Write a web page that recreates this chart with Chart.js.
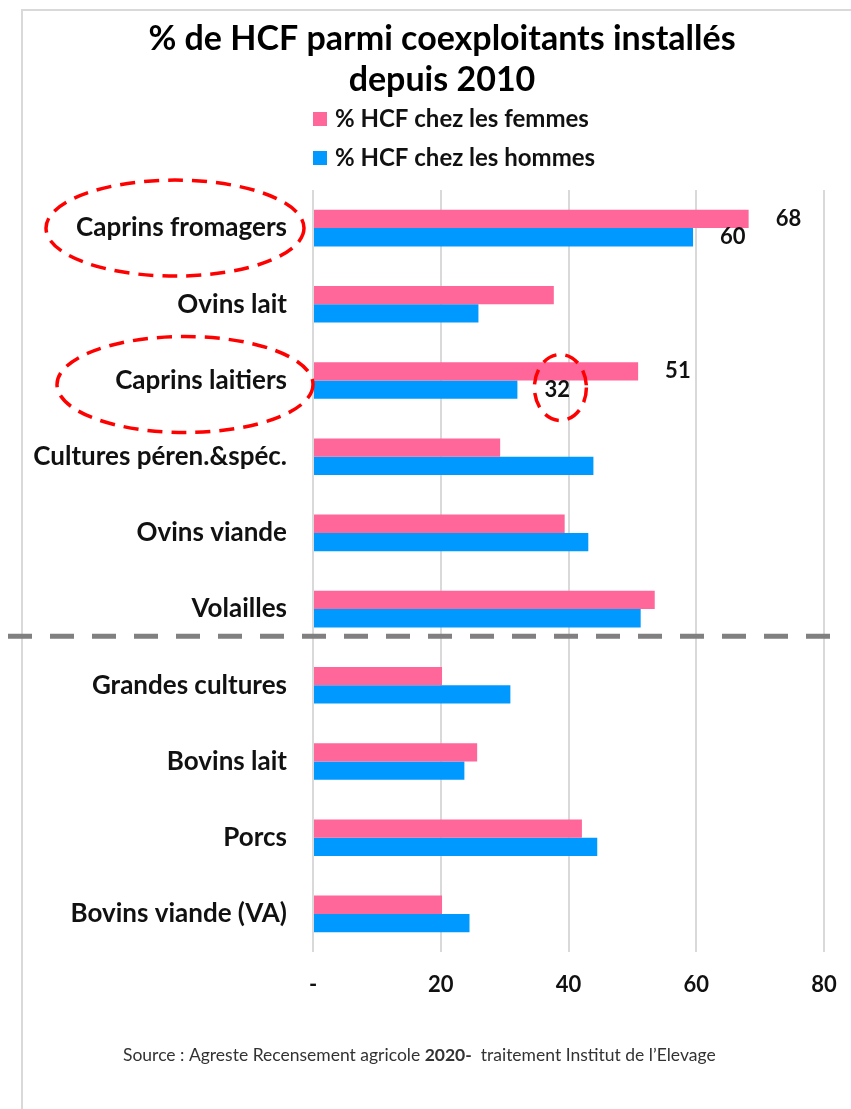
<!DOCTYPE html>
<html>
<head>
<meta charset="utf-8">
<script src="https://cdn.jsdelivr.net/npm/chart.js@4.4.1/dist/chart.umd.min.js"></script>
<style>
  html, body { margin: 0; padding: 0; background: #fff; }
  #wrap { width: 851px; height: 1109px; position: relative; }
</style>
</head>
<body>
<div id="wrap"><canvas id="graf" width="851" height="1109"></canvas></div>
<script>
// === DONNÉES ===
const titre = ["% de HCF parmi coexploitants installés", "depuis 2010"];
const categories = ["Caprins fromagers", "Ovins lait", "Caprins laitiers", "Cultures péren.&spéc.", "Ovins viande",
  "Volailles", "Grandes cultures", "Bovins lait", "Porcs", "Bovins viande (VA)"];
const femmes = [68.2, 37.7, 50.9, 29.3, 39.4, 53.5, 20.2, 25.7, 42.1, 20.2];
const hommes = [59.5, 25.9, 32.0, 43.9, 43.1, 51.3, 30.9, 23.7, 44.5, 24.5];
const etiquettesFemmes = ["68", null, "51", null, null, null, null, null, null, null];
const etiquettesHommes = ["60", null, "32", null, null, null, null, null, null, null];
const ticksX = [0, 20, 40, 60, 80];
const ticksXLabels = ["-", "20", "40", "60", "80"];

const POLICE = "Lato, 'Open Sans', sans-serif";
const NOIR = "#111";

// === PLUGIN : cadre, titre, légende, étiquettes, séparateur, ellipses, source ===
const decor = {
  id: "decor",
  beforeDraw(chart) {
    const ctx = chart.ctx;
    ctx.save();
    ctx.strokeStyle = "#d9d9d9";
    ctx.lineWidth = 2;
    ctx.beginPath();
    ctx.moveTo(22, 1109); ctx.lineTo(22, 10); ctx.lineTo(851, 10);
    ctx.stroke();
    ctx.restore();
  },
  afterDatasetsDraw(chart) {
    const ctx = chart.ctx;
    const y = chart.scales.y;
    ctx.save();
    // étiquettes de valeurs
    ctx.font = "bold 22px " + POLICE;
    ctx.fillStyle = NOIR;
    ctx.textAlign = "left";
    ctx.textBaseline = "middle";
    [etiquettesFemmes, etiquettesHommes].forEach((labels, d) => {
      chart.getDatasetMeta(d).data.forEach((bar, i) => {
        if (labels[i]) ctx.fillText(labels[i], bar.x + 27, bar.y);
      });
    });
    // séparateur pointillé gris
    const ySep = (y.getPixelForValue(5) + y.getPixelForValue(6)) / 2 - 11;
    ctx.strokeStyle = "#808080";
    ctx.lineWidth = 5;
    ctx.setLineDash([24, 18]);
    ctx.beginPath();
    ctx.moveTo(8, ySep); ctx.lineTo(840, ySep);
    ctx.stroke();
    ctx.restore();
  },
  afterDraw(chart) {
    const ctx = chart.ctx;
    const x = chart.scales.x, y = chart.scales.y;
    ctx.save();
    // titre
    ctx.font = "bold 34px " + POLICE;
    ctx.fillStyle = "#000";
    ctx.textAlign = "center";
    ctx.textBaseline = "middle";
    titre.forEach((t, i) => ctx.fillText(t, 442, 39 + i * 41));

    // ellipses rouges
    ctx.strokeStyle = "#ff0000";
    ctx.lineWidth = 3.5;
    ctx.setLineDash([15, 9]);
    const ell = (cx, cy, rx, ry) => {
      ctx.beginPath();
      ctx.ellipse(cx, cy, rx, ry, 0, 0, Math.PI * 2);
      ctx.stroke();
    };
    ell(175, y.getPixelForValue(0), 129, 48);
    ell(185, y.getPixelForValue(2) + 4, 128, 48);
    ell(x.getPixelForValue(hommes[2]) + 43, y.getPixelForValue(2) + 7, 26, 33);
    ctx.setLineDash([]);

    // légende
    ctx.font = "bold 24px " + POLICE;
    ctx.textAlign = "left";
    chart.data.datasets.forEach((ds, i) => {
      const yy = 119 + i * 39;
      ctx.fillStyle = ds.backgroundColor;
      ctx.fillRect(313, yy - 7, 14, 14);
      ctx.fillStyle = NOIR;
      ctx.fillText(ds.label, 335, yy);
    });

    // source
    const parts = [["Source : Agreste Recensement agricole ", "normal"], ["2020-", "bold"], ["  traitement Institut de l\u2019Elevage", "normal"]];
    let px = 123;
    ctx.fillStyle = "#333";
    parts.forEach(([t, w]) => {
      ctx.font = w + " 17.5px " + POLICE;
      ctx.fillText(t, px, 1055);
      px += ctx.measureText(t).width;
    });
    ctx.restore();
  }
};

new Chart(document.getElementById("graf"), {
  type: "bar",
  data: {
    labels: categories,
    datasets: [
      { label: "% HCF chez les femmes", data: femmes, backgroundColor: "#ff6699",
        categoryPercentage: 0.48, barPercentage: 1.0 },
      { label: "% HCF chez les hommes", data: hommes, backgroundColor: "#0099ff",
        categoryPercentage: 0.48, barPercentage: 1.0 }
    ]
  },
  options: {
    indexAxis: "y",
    responsive: false,
    animation: false,
    layout: { padding: { left: 0, right: 27, top: 190, bottom: 111 } },
    plugins: {
      legend: { display: false },
      tooltip: { enabled: false },
      title: { display: false }
    },
    scales: {
      x: {
        min: 0, max: 80,
        afterBuildTicks: s => { s.ticks = ticksX.map(v => ({ value: v })); },
        afterFit: s => { s.height = 46; s.paddingLeft = 0; s.paddingRight = 0; },
        ticks: {
          callback: v => ticksXLabels[ticksX.indexOf(v)],
          font: { family: POLICE, size: 22, weight: "bold" },
          color: NOIR,
          padding: 20
        },
        grid: { color: "#d9d9d9", lineWidth: 2, drawTicks: false },
        border: { display: false }
      },
      y: {
        afterFit: s => { s.width = 313; s.paddingTop = 0; s.paddingBottom = 0; },
        ticks: {
          font: { family: POLICE, size: 26, weight: "bold" },
          color: NOIR,
          padding: 26
        },
        grid: { display: false, drawTicks: false },
        border: { display: false }
      }
    }
  },
  plugins: [decor]
});
</script>
</body>
</html>
